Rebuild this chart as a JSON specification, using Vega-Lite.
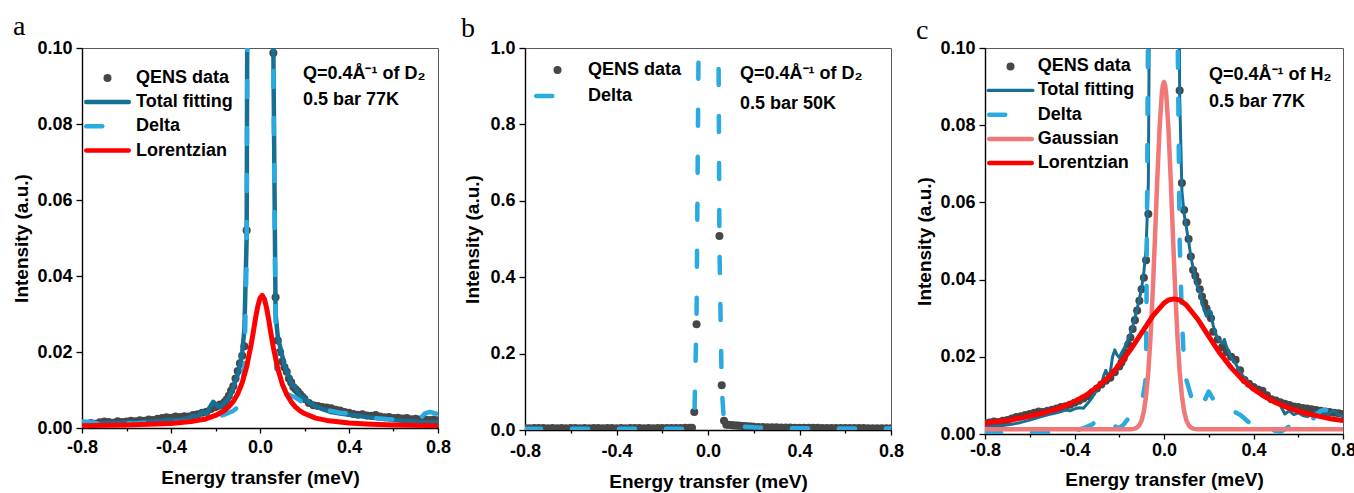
{
"$schema": "https://vega.github.io/schema/vega-lite/v6.json",
"background": "white",
"padding": {"left": 12, "top": 12, "right": 5, "bottom": 2},
"bounds": "flush",
"spacing": 87,
"datasets": {
"a": [
{"series":"QENS data","E":-0.80,"I":0.0012},{"series":"QENS data","E":-0.78,"I":0.0010},{"series":"QENS data","E":-0.76,"I":0.0013},{"series":"QENS data","E":-0.74,"I":0.0011},{"series":"QENS data","E":-0.72,"I":0.0015},{"series":"QENS data","E":-0.70,"I":0.0017},{"series":"QENS data","E":-0.68,"I":0.0016},{"series":"QENS data","E":-0.66,"I":0.0014},{"series":"QENS data","E":-0.64,"I":0.0018},{"series":"QENS data","E":-0.62,"I":0.0016},{"series":"QENS data","E":-0.60,"I":0.0017},{"series":"QENS data","E":-0.58,"I":0.0019},{"series":"QENS data","E":-0.56,"I":0.0018},{"series":"QENS data","E":-0.54,"I":0.0020},{"series":"QENS data","E":-0.52,"I":0.0019},{"series":"QENS data","E":-0.50,"I":0.0022},{"series":"QENS data","E":-0.48,"I":0.0021},{"series":"QENS data","E":-0.46,"I":0.0024},{"series":"QENS data","E":-0.44,"I":0.0026},{"series":"QENS data","E":-0.42,"I":0.0028},{"series":"QENS data","E":-0.40,"I":0.0027},{"series":"QENS data","E":-0.38,"I":0.0030},{"series":"QENS data","E":-0.36,"I":0.0029},{"series":"QENS data","E":-0.34,"I":0.0031},{"series":"QENS data","E":-0.32,"I":0.0030},{"series":"QENS data","E":-0.30,"I":0.0034},{"series":"QENS data","E":-0.28,"I":0.0036},{"series":"QENS data","E":-0.26,"I":0.0040},{"series":"QENS data","E":-0.24,"I":0.0043},{"series":"QENS data","E":-0.22,"I":0.0050},{"series":"QENS data","E":-0.20,"I":0.0055},{"series":"QENS data","E":-0.19,"I":0.0058},{"series":"QENS data","E":-0.18,"I":0.0062},{"series":"QENS data","E":-0.17,"I":0.0060},{"series":"QENS data","E":-0.16,"I":0.0068},{"series":"QENS data","E":-0.15,"I":0.0075},{"series":"QENS data","E":-0.14,"I":0.0085},{"series":"QENS data","E":-0.13,"I":0.0098},{"series":"QENS data","E":-0.12,"I":0.0110},{"series":"QENS data","E":-0.11,"I":0.0130},{"series":"QENS data","E":-0.10,"I":0.0150},{"series":"QENS data","E":-0.09,"I":0.0170},{"series":"QENS data","E":-0.08,"I":0.0190},{"series":"QENS data","E":-0.07,"I":0.0215},{"series":"QENS data","E":-0.06,"I":0.052},{"series":"QENS data","E":-0.05,"I":0.25},{"series":"QENS data","E":-0.04,"I":0.62},{"series":"QENS data","E":-0.03,"I":1.0},{"series":"QENS data","E":-0.02,"I":1.3},{"series":"QENS data","E":-0.01,"I":1.5},{"series":"QENS data","E":0.0,"I":1.55},{"series":"QENS data","E":0.01,"I":1.5},{"series":"QENS data","E":0.02,"I":1.3},{"series":"QENS data","E":0.03,"I":1.0},{"series":"QENS data","E":0.04,"I":0.66},{"series":"QENS data","E":0.05,"I":0.33},{"series":"QENS data","E":0.06,"I":0.0987},{"series":"QENS data","E":0.07,"I":0.0344},{"series":"QENS data","E":0.08,"I":0.0230},{"series":"QENS data","E":0.09,"I":0.0200},{"series":"QENS data","E":0.10,"I":0.0175},{"series":"QENS data","E":0.11,"I":0.0160},{"series":"QENS data","E":0.12,"I":0.0148},{"series":"QENS data","E":0.13,"I":0.0130},{"series":"QENS data","E":0.14,"I":0.0120},{"series":"QENS data","E":0.15,"I":0.0108},{"series":"QENS data","E":0.16,"I":0.0102},{"series":"QENS data","E":0.17,"I":0.0096},{"series":"QENS data","E":0.18,"I":0.0089},{"series":"QENS data","E":0.19,"I":0.0082},{"series":"QENS data","E":0.20,"I":0.0076},{"series":"QENS data","E":0.22,"I":0.0066},{"series":"QENS data","E":0.24,"I":0.0060},{"series":"QENS data","E":0.26,"I":0.0058},{"series":"QENS data","E":0.28,"I":0.0055},{"series":"QENS data","E":0.30,"I":0.0054},{"series":"QENS data","E":0.32,"I":0.0052},{"series":"QENS data","E":0.34,"I":0.0048},{"series":"QENS data","E":0.36,"I":0.0046},{"series":"QENS data","E":0.38,"I":0.0042},{"series":"QENS data","E":0.40,"I":0.0040},{"series":"QENS data","E":0.42,"I":0.0037},{"series":"QENS data","E":0.44,"I":0.0035},{"series":"QENS data","E":0.46,"I":0.0036},{"series":"QENS data","E":0.48,"I":0.0033},{"series":"QENS data","E":0.50,"I":0.0032},{"series":"QENS data","E":0.52,"I":0.0034},{"series":"QENS data","E":0.54,"I":0.0030},{"series":"QENS data","E":0.56,"I":0.0028},{"series":"QENS data","E":0.58,"I":0.0029},{"series":"QENS data","E":0.60,"I":0.0026},{"series":"QENS data","E":0.62,"I":0.0027},{"series":"QENS data","E":0.64,"I":0.0025},{"series":"QENS data","E":0.66,"I":0.0026},{"series":"QENS data","E":0.68,"I":0.0023},{"series":"QENS data","E":0.70,"I":0.0024},{"series":"QENS data","E":0.72,"I":0.0022},{"series":"QENS data","E":0.74,"I":0.0023},{"series":"QENS data","E":0.76,"I":0.0021},{"series":"QENS data","E":0.78,"I":0.0022},{"series":"QENS data","E":0.80,"I":0.0020},
{"series":"Total fitting","E":-0.80,"I":0.0015},{"series":"Total fitting","E":-0.76,"I":0.0013},{"series":"Total fitting","E":-0.72,"I":0.0012},{"series":"Total fitting","E":-0.68,"I":0.0014},{"series":"Total fitting","E":-0.64,"I":0.0013},{"series":"Total fitting","E":-0.60,"I":0.0015},{"series":"Total fitting","E":-0.56,"I":0.0014},{"series":"Total fitting","E":-0.52,"I":0.0016},{"series":"Total fitting","E":-0.48,"I":0.0017},{"series":"Total fitting","E":-0.44,"I":0.0019},{"series":"Total fitting","E":-0.40,"I":0.0021},{"series":"Total fitting","E":-0.36,"I":0.0022},{"series":"Total fitting","E":-0.32,"I":0.0026},{"series":"Total fitting","E":-0.30,"I":0.0032},{"series":"Total fitting","E":-0.28,"I":0.0030},{"series":"Total fitting","E":-0.26,"I":0.0042},{"series":"Total fitting","E":-0.24,"I":0.0038},{"series":"Total fitting","E":-0.22,"I":0.0060},{"series":"Total fitting","E":-0.21,"I":0.0069},{"series":"Total fitting","E":-0.20,"I":0.0062},{"series":"Total fitting","E":-0.19,"I":0.0058},{"series":"Total fitting","E":-0.18,"I":0.0055},{"series":"Total fitting","E":-0.17,"I":0.0060},{"series":"Total fitting","E":-0.16,"I":0.0066},{"series":"Total fitting","E":-0.15,"I":0.0072},{"series":"Total fitting","E":-0.14,"I":0.0080},{"series":"Total fitting","E":-0.13,"I":0.0092},{"series":"Total fitting","E":-0.12,"I":0.0108},{"series":"Total fitting","E":-0.11,"I":0.0125},{"series":"Total fitting","E":-0.10,"I":0.0140},{"series":"Total fitting","E":-0.09,"I":0.0165},{"series":"Total fitting","E":-0.08,"I":0.0200},{"series":"Total fitting","E":-0.07,"I":0.0260},{"series":"Total fitting","E":-0.06,"I":0.05},{"series":"Total fitting","E":-0.05,"I":0.25},{"series":"Total fitting","E":-0.04,"I":0.62},{"series":"Total fitting","E":-0.03,"I":1.0},{"series":"Total fitting","E":-0.02,"I":1.3},{"series":"Total fitting","E":-0.01,"I":1.5},{"series":"Total fitting","E":0.0,"I":1.55},{"series":"Total fitting","E":0.01,"I":1.5},{"series":"Total fitting","E":0.02,"I":1.3},{"series":"Total fitting","E":0.03,"I":1.0},{"series":"Total fitting","E":0.04,"I":0.66},{"series":"Total fitting","E":0.05,"I":0.33},{"series":"Total fitting","E":0.06,"I":0.1},{"series":"Total fitting","E":0.07,"I":0.030},{"series":"Total fitting","E":0.08,"I":0.024},{"series":"Total fitting","E":0.09,"I":0.0215},{"series":"Total fitting","E":0.10,"I":0.019},{"series":"Total fitting","E":0.11,"I":0.0165},{"series":"Total fitting","E":0.12,"I":0.0150},{"series":"Total fitting","E":0.13,"I":0.0135},{"series":"Total fitting","E":0.14,"I":0.0120},{"series":"Total fitting","E":0.15,"I":0.0112},{"series":"Total fitting","E":0.16,"I":0.0105},{"series":"Total fitting","E":0.17,"I":0.0095},{"series":"Total fitting","E":0.18,"I":0.0085},{"series":"Total fitting","E":0.19,"I":0.0080},{"series":"Total fitting","E":0.20,"I":0.0078},{"series":"Total fitting","E":0.21,"I":0.0072},{"series":"Total fitting","E":0.22,"I":0.0068},{"series":"Total fitting","E":0.24,"I":0.0060},{"series":"Total fitting","E":0.26,"I":0.0055},{"series":"Total fitting","E":0.28,"I":0.0050},{"series":"Total fitting","E":0.30,"I":0.0046},{"series":"Total fitting","E":0.32,"I":0.0042},{"series":"Total fitting","E":0.34,"I":0.0040},{"series":"Total fitting","E":0.36,"I":0.0038},{"series":"Total fitting","E":0.40,"I":0.0035},{"series":"Total fitting","E":0.44,"I":0.0032},{"series":"Total fitting","E":0.48,"I":0.0029},{"series":"Total fitting","E":0.52,"I":0.0026},{"series":"Total fitting","E":0.56,"I":0.0024},{"series":"Total fitting","E":0.60,"I":0.0021},{"series":"Total fitting","E":0.64,"I":0.0019},{"series":"Total fitting","E":0.68,"I":0.0018},{"series":"Total fitting","E":0.72,"I":0.0016},{"series":"Total fitting","E":0.76,"I":0.0015},{"series":"Total fitting","E":0.80,"I":0.0016},
{"series":"Delta","E":-0.80,"I":0.0017},{"series":"Delta","E":-0.76,"I":0.0016},{"series":"Delta","E":-0.72,"I":0.0010},{"series":"Delta","E":-0.68,"I":0.0012},{"series":"Delta","E":-0.64,"I":0.0011},{"series":"Delta","E":-0.60,"I":0.0013},{"series":"Delta","E":-0.56,"I":0.0012},{"series":"Delta","E":-0.52,"I":0.0014},{"series":"Delta","E":-0.48,"I":0.0013},{"series":"Delta","E":-0.44,"I":0.0014},{"series":"Delta","E":-0.40,"I":0.0015},{"series":"Delta","E":-0.36,"I":0.0016},{"series":"Delta","E":-0.32,"I":0.0018},{"series":"Delta","E":-0.28,"I":0.0020},{"series":"Delta","E":-0.24,"I":0.0022},{"series":"Delta","E":-0.20,"I":0.0030},{"series":"Delta","E":-0.16,"I":0.0035},{"series":"Delta","E":-0.14,"I":0.0040},{"series":"Delta","E":-0.12,"I":0.0045},{"series":"Delta","E":-0.10,"I":0.0055},{"series":"Delta","E":-0.09,"I":0.0070},{"series":"Delta","E":-0.08,"I":0.0110},{"series":"Delta","E":-0.07,"I":0.0160},{"series":"Delta","E":-0.06,"I":0.045},{"series":"Delta","E":-0.05,"I":0.24},{"series":"Delta","E":-0.04,"I":0.6},{"series":"Delta","E":-0.03,"I":1.0},{"series":"Delta","E":-0.02,"I":1.3},{"series":"Delta","E":-0.01,"I":1.5},{"series":"Delta","E":0.0,"I":1.55},{"series":"Delta","E":0.01,"I":1.5},{"series":"Delta","E":0.02,"I":1.3},{"series":"Delta","E":0.03,"I":1.0},{"series":"Delta","E":0.04,"I":0.65},{"series":"Delta","E":0.05,"I":0.32},{"series":"Delta","E":0.06,"I":0.095},{"series":"Delta","E":0.07,"I":0.025},{"series":"Delta","E":0.075,"I":0.0104},{"series":"Delta","E":0.08,"I":0.0100},{"series":"Delta","E":0.10,"I":0.0095},{"series":"Delta","E":0.12,"I":0.0090},{"series":"Delta","E":0.14,"I":0.0085},{"series":"Delta","E":0.16,"I":0.0080},{"series":"Delta","E":0.18,"I":0.0072},{"series":"Delta","E":0.20,"I":0.0065},{"series":"Delta","E":0.22,"I":0.0060},{"series":"Delta","E":0.24,"I":0.0057},{"series":"Delta","E":0.26,"I":0.0055},{"series":"Delta","E":0.28,"I":0.0050},{"series":"Delta","E":0.32,"I":0.0045},{"series":"Delta","E":0.36,"I":0.0040},{"series":"Delta","E":0.40,"I":0.0038},{"series":"Delta","E":0.44,"I":0.0035},{"series":"Delta","E":0.48,"I":0.0030},{"series":"Delta","E":0.52,"I":0.0026},{"series":"Delta","E":0.56,"I":0.0024},{"series":"Delta","E":0.60,"I":0.0022},{"series":"Delta","E":0.64,"I":0.0020},{"series":"Delta","E":0.68,"I":0.0021},{"series":"Delta","E":0.72,"I":0.0024},{"series":"Delta","E":0.74,"I":0.0038},{"series":"Delta","E":0.76,"I":0.0042},{"series":"Delta","E":0.78,"I":0.0040},{"series":"Delta","E":0.80,"I":0.0036},
{"series":"Lorentzian","E":-0.80,"I":0.0006},{"series":"Lorentzian","E":-0.60,"I":0.0008},{"series":"Lorentzian","E":-0.40,"I":0.0012},{"series":"Lorentzian","E":-0.30,"I":0.0018},{"series":"Lorentzian","E":-0.25,"I":0.0023},{"series":"Lorentzian","E":-0.20,"I":0.0033},{"series":"Lorentzian","E":-0.16,"I":0.0046},{"series":"Lorentzian","E":-0.14,"I":0.0056},{"series":"Lorentzian","E":-0.12,"I":0.0070},{"series":"Lorentzian","E":-0.10,"I":0.0090},{"series":"Lorentzian","E":-0.08,"I":0.0119},{"series":"Lorentzian","E":-0.06,"I":0.0161},{"series":"Lorentzian","E":-0.04,"I":0.0219},{"series":"Lorentzian","E":-0.03,"I":0.0253},{"series":"Lorentzian","E":-0.02,"I":0.0289},{"series":"Lorentzian","E":-0.01,"I":0.0320},{"series":"Lorentzian","E":0.0,"I":0.0342},{"series":"Lorentzian","E":0.01,"I":0.0349},{"series":"Lorentzian","E":0.02,"I":0.0339},{"series":"Lorentzian","E":0.03,"I":0.0315},{"series":"Lorentzian","E":0.04,"I":0.0282},{"series":"Lorentzian","E":0.05,"I":0.0246},{"series":"Lorentzian","E":0.06,"I":0.0212},{"series":"Lorentzian","E":0.08,"I":0.0156},{"series":"Lorentzian","E":0.10,"I":0.0116},{"series":"Lorentzian","E":0.12,"I":0.0088},{"series":"Lorentzian","E":0.14,"I":0.0069},{"series":"Lorentzian","E":0.16,"I":0.0055},{"series":"Lorentzian","E":0.18,"I":0.0045},{"series":"Lorentzian","E":0.20,"I":0.0038},{"series":"Lorentzian","E":0.25,"I":0.0026},{"series":"Lorentzian","E":0.30,"I":0.0020},{"series":"Lorentzian","E":0.40,"I":0.0013},{"series":"Lorentzian","E":0.50,"I":0.0010},{"series":"Lorentzian","E":0.60,"I":0.0008},{"series":"Lorentzian","E":0.80,"I":0.0006}
],
"b": [
{"series":"QENS data","E":-0.80,"I":0.0050},{"series":"QENS data","E":-0.78,"I":0.0046},{"series":"QENS data","E":-0.76,"I":0.0052},{"series":"QENS data","E":-0.74,"I":0.0049},{"series":"QENS data","E":-0.72,"I":0.0053},{"series":"QENS data","E":-0.70,"I":0.0047},{"series":"QENS data","E":-0.68,"I":0.0051},{"series":"QENS data","E":-0.66,"I":0.0048},{"series":"QENS data","E":-0.64,"I":0.0050},{"series":"QENS data","E":-0.62,"I":0.0046},{"series":"QENS data","E":-0.60,"I":0.0052},{"series":"QENS data","E":-0.58,"I":0.0049},{"series":"QENS data","E":-0.56,"I":0.0047},{"series":"QENS data","E":-0.54,"I":0.0051},{"series":"QENS data","E":-0.52,"I":0.0048},{"series":"QENS data","E":-0.50,"I":0.0053},{"series":"QENS data","E":-0.48,"I":0.0049},{"series":"QENS data","E":-0.46,"I":0.0046},{"series":"QENS data","E":-0.44,"I":0.0050},{"series":"QENS data","E":-0.42,"I":0.0052},{"series":"QENS data","E":-0.40,"I":0.0048},{"series":"QENS data","E":-0.38,"I":0.0051},{"series":"QENS data","E":-0.36,"I":0.0047},{"series":"QENS data","E":-0.34,"I":0.0050},{"series":"QENS data","E":-0.32,"I":0.0053},{"series":"QENS data","E":-0.30,"I":0.0049},{"series":"QENS data","E":-0.28,"I":0.0046},{"series":"QENS data","E":-0.26,"I":0.0051},{"series":"QENS data","E":-0.24,"I":0.0048},{"series":"QENS data","E":-0.22,"I":0.0050},{"series":"QENS data","E":-0.20,"I":0.0052},{"series":"QENS data","E":-0.18,"I":0.0049},{"series":"QENS data","E":-0.16,"I":0.0051},{"series":"QENS data","E":-0.14,"I":0.0050},{"series":"QENS data","E":-0.12,"I":0.0053},{"series":"QENS data","E":-0.10,"I":0.0055},{"series":"QENS data","E":-0.08,"I":0.0058},{"series":"QENS data","E":-0.07,"I":0.0060},{"series":"QENS data","E":-0.06,"I":0.047},{"series":"QENS data","E":-0.05,"I":0.277},{"series":"QENS data","E":-0.04,"I":1.6},{"series":"QENS data","E":-0.03,"I":3.2},{"series":"QENS data","E":-0.02,"I":4.5},{"series":"QENS data","E":-0.01,"I":5.2},{"series":"QENS data","E":0.0,"I":5.4},{"series":"QENS data","E":0.01,"I":5.2},{"series":"QENS data","E":0.02,"I":4.6},{"series":"QENS data","E":0.03,"I":3.4},{"series":"QENS data","E":0.04,"I":1.9},{"series":"QENS data","E":0.05,"I":0.508},{"series":"QENS data","E":0.06,"I":0.117},{"series":"QENS data","E":0.07,"I":0.024},{"series":"QENS data","E":0.08,"I":0.014},{"series":"QENS data","E":0.09,"I":0.0135},{"series":"QENS data","E":0.10,"I":0.013},{"series":"QENS data","E":0.11,"I":0.0125},{"series":"QENS data","E":0.12,"I":0.012},{"series":"QENS data","E":0.13,"I":0.0115},{"series":"QENS data","E":0.14,"I":0.011},{"series":"QENS data","E":0.15,"I":0.0105},{"series":"QENS data","E":0.16,"I":0.010},{"series":"QENS data","E":0.17,"I":0.0095},{"series":"QENS data","E":0.18,"I":0.009},{"series":"QENS data","E":0.19,"I":0.0088},{"series":"QENS data","E":0.20,"I":0.0085},{"series":"QENS data","E":0.22,"I":0.0080},{"series":"QENS data","E":0.24,"I":0.0076},{"series":"QENS data","E":0.26,"I":0.0072},{"series":"QENS data","E":0.28,"I":0.0070},{"series":"QENS data","E":0.30,"I":0.0068},{"series":"QENS data","E":0.32,"I":0.0066},{"series":"QENS data","E":0.34,"I":0.0064},{"series":"QENS data","E":0.36,"I":0.0062},{"series":"QENS data","E":0.38,"I":0.0060},{"series":"QENS data","E":0.40,"I":0.0059},{"series":"QENS data","E":0.42,"I":0.0058},{"series":"QENS data","E":0.44,"I":0.0057},{"series":"QENS data","E":0.46,"I":0.0056},{"series":"QENS data","E":0.48,"I":0.0055},{"series":"QENS data","E":0.50,"I":0.0054},{"series":"QENS data","E":0.52,"I":0.0054},{"series":"QENS data","E":0.54,"I":0.0053},{"series":"QENS data","E":0.56,"I":0.0052},{"series":"QENS data","E":0.58,"I":0.0052},{"series":"QENS data","E":0.60,"I":0.0051},{"series":"QENS data","E":0.62,"I":0.0050},{"series":"QENS data","E":0.64,"I":0.0050},{"series":"QENS data","E":0.66,"I":0.0049},{"series":"QENS data","E":0.68,"I":0.0049},{"series":"QENS data","E":0.70,"I":0.0048},{"series":"QENS data","E":0.72,"I":0.0048},{"series":"QENS data","E":0.74,"I":0.0047},{"series":"QENS data","E":0.76,"I":0.0047},{"series":"QENS data","E":0.78,"I":0.0046},{"series":"QENS data","E":0.80,"I":0.0046},
{"series":"Delta","E":-0.80,"I":0.0035},{"series":"Delta","E":-0.60,"I":0.0035},{"series":"Delta","E":-0.40,"I":0.0035},{"series":"Delta","E":-0.20,"I":0.0035},{"series":"Delta","E":-0.10,"I":0.0035},{"series":"Delta","E":-0.08,"I":0.0040},{"series":"Delta","E":-0.07,"I":0.0045},{"series":"Delta","E":-0.06,"I":0.020},{"series":"Delta","E":-0.05,"I":0.30},{"series":"Delta","E":-0.04,"I":1.1},{"series":"Delta","E":-0.03,"I":2.6},{"series":"Delta","E":-0.02,"I":4.0},{"series":"Delta","E":-0.01,"I":5.0},{"series":"Delta","E":0.0,"I":5.3},{"series":"Delta","E":0.01,"I":5.0},{"series":"Delta","E":0.02,"I":4.2},{"series":"Delta","E":0.03,"I":3.0},{"series":"Delta","E":0.04,"I":1.8},{"series":"Delta","E":0.05,"I":0.48},{"series":"Delta","E":0.06,"I":0.11},{"series":"Delta","E":0.07,"I":0.020},{"series":"Delta","E":0.08,"I":0.012},{"series":"Delta","E":0.10,"I":0.011},{"series":"Delta","E":0.12,"I":0.010},{"series":"Delta","E":0.16,"I":0.0085},{"series":"Delta","E":0.20,"I":0.0070},{"series":"Delta","E":0.25,"I":0.0060},{"series":"Delta","E":0.30,"I":0.0052},{"series":"Delta","E":0.40,"I":0.0045},{"series":"Delta","E":0.50,"I":0.0042},{"series":"Delta","E":0.60,"I":0.0040},{"series":"Delta","E":0.70,"I":0.0040},{"series":"Delta","E":0.80,"I":0.0040}
],
"c": [
{"series":"QENS data","E":-0.80,"I":0.0028},{"series":"QENS data","E":-0.78,"I":0.0030},{"series":"QENS data","E":-0.76,"I":0.0032},{"series":"QENS data","E":-0.74,"I":0.0031},{"series":"QENS data","E":-0.72,"I":0.0034},{"series":"QENS data","E":-0.70,"I":0.0036},{"series":"QENS data","E":-0.68,"I":0.0040},{"series":"QENS data","E":-0.66,"I":0.0044},{"series":"QENS data","E":-0.64,"I":0.0046},{"series":"QENS data","E":-0.62,"I":0.0049},{"series":"QENS data","E":-0.60,"I":0.0052},{"series":"QENS data","E":-0.58,"I":0.0055},{"series":"QENS data","E":-0.56,"I":0.0058},{"series":"QENS data","E":-0.54,"I":0.0057},{"series":"QENS data","E":-0.52,"I":0.0060},{"series":"QENS data","E":-0.50,"I":0.0063},{"series":"QENS data","E":-0.48,"I":0.0066},{"series":"QENS data","E":-0.46,"I":0.0070},{"series":"QENS data","E":-0.44,"I":0.0072},{"series":"QENS data","E":-0.42,"I":0.0076},{"series":"QENS data","E":-0.40,"I":0.0081},{"series":"QENS data","E":-0.38,"I":0.0086},{"series":"QENS data","E":-0.36,"I":0.0092},{"series":"QENS data","E":-0.34,"I":0.0098},{"series":"QENS data","E":-0.32,"I":0.0108},{"series":"QENS data","E":-0.30,"I":0.0118},{"series":"QENS data","E":-0.28,"I":0.0128},{"series":"QENS data","E":-0.26,"I":0.0138},{"series":"QENS data","E":-0.24,"I":0.0146},{"series":"QENS data","E":-0.22,"I":0.0160},{"series":"QENS data","E":-0.20,"I":0.0175},{"series":"QENS data","E":-0.19,"I":0.0185},{"series":"QENS data","E":-0.18,"I":0.0196},{"series":"QENS data","E":-0.17,"I":0.0212},{"series":"QENS data","E":-0.16,"I":0.0232},{"series":"QENS data","E":-0.15,"I":0.0250},{"series":"QENS data","E":-0.14,"I":0.0272},{"series":"QENS data","E":-0.13,"I":0.0295},{"series":"QENS data","E":-0.12,"I":0.0320},{"series":"QENS data","E":-0.11,"I":0.0345},{"series":"QENS data","E":-0.10,"I":0.0375},{"series":"QENS data","E":-0.09,"I":0.0405},{"series":"QENS data","E":-0.08,"I":0.0450},{"series":"QENS data","E":-0.07,"I":0.0570},{"series":"QENS data","E":-0.06,"I":0.15},{"series":"QENS data","E":-0.05,"I":0.35},{"series":"QENS data","E":-0.04,"I":0.6},{"series":"QENS data","E":-0.03,"I":0.9},{"series":"QENS data","E":-0.02,"I":1.1},{"series":"QENS data","E":-0.01,"I":1.2},{"series":"QENS data","E":0.0,"I":1.2},{"series":"QENS data","E":0.01,"I":1.15},{"series":"QENS data","E":0.02,"I":1.0},{"series":"QENS data","E":0.03,"I":0.8},{"series":"QENS data","E":0.04,"I":0.55},{"series":"QENS data","E":0.05,"I":0.35},{"series":"QENS data","E":0.06,"I":0.17},{"series":"QENS data","E":0.07,"I":0.089},{"series":"QENS data","E":0.08,"I":0.065},{"series":"QENS data","E":0.09,"I":0.058},{"series":"QENS data","E":0.10,"I":0.0548},{"series":"QENS data","E":0.11,"I":0.0505},{"series":"QENS data","E":0.12,"I":0.0460},{"series":"QENS data","E":0.13,"I":0.0425},{"series":"QENS data","E":0.14,"I":0.0410},{"series":"QENS data","E":0.15,"I":0.0395},{"series":"QENS data","E":0.16,"I":0.0375},{"series":"QENS data","E":0.17,"I":0.0356},{"series":"QENS data","E":0.18,"I":0.0340},{"series":"QENS data","E":0.19,"I":0.0325},{"series":"QENS data","E":0.20,"I":0.0312},{"series":"QENS data","E":0.21,"I":0.0300},{"series":"QENS data","E":0.22,"I":0.0265},{"series":"QENS data","E":0.24,"I":0.0245},{"series":"QENS data","E":0.26,"I":0.0225},{"series":"QENS data","E":0.28,"I":0.0212},{"series":"QENS data","E":0.30,"I":0.0200},{"series":"QENS data","E":0.32,"I":0.0192},{"series":"QENS data","E":0.34,"I":0.0165},{"series":"QENS data","E":0.36,"I":0.0140},{"series":"QENS data","E":0.38,"I":0.0130},{"series":"QENS data","E":0.40,"I":0.0122},{"series":"QENS data","E":0.42,"I":0.0115},{"series":"QENS data","E":0.44,"I":0.0112},{"series":"QENS data","E":0.46,"I":0.0100},{"series":"QENS data","E":0.48,"I":0.0090},{"series":"QENS data","E":0.50,"I":0.0087},{"series":"QENS data","E":0.52,"I":0.0082},{"series":"QENS data","E":0.54,"I":0.0078},{"series":"QENS data","E":0.56,"I":0.0075},{"series":"QENS data","E":0.58,"I":0.0071},{"series":"QENS data","E":0.60,"I":0.0070},{"series":"QENS data","E":0.62,"I":0.0067},{"series":"QENS data","E":0.64,"I":0.0066},{"series":"QENS data","E":0.66,"I":0.0064},{"series":"QENS data","E":0.68,"I":0.0062},{"series":"QENS data","E":0.70,"I":0.0060},{"series":"QENS data","E":0.72,"I":0.0058},{"series":"QENS data","E":0.74,"I":0.0057},{"series":"QENS data","E":0.76,"I":0.0055},{"series":"QENS data","E":0.78,"I":0.0054},{"series":"QENS data","E":0.80,"I":0.0052},
{"series":"Total fitting","E":-0.80,"I":0.0018},{"series":"Total fitting","E":-0.76,"I":0.0020},{"series":"Total fitting","E":-0.72,"I":0.0022},{"series":"Total fitting","E":-0.68,"I":0.0025},{"series":"Total fitting","E":-0.64,"I":0.0030},{"series":"Total fitting","E":-0.60,"I":0.0036},{"series":"Total fitting","E":-0.56,"I":0.0043},{"series":"Total fitting","E":-0.52,"I":0.0050},{"series":"Total fitting","E":-0.48,"I":0.0055},{"series":"Total fitting","E":-0.46,"I":0.0058},{"series":"Total fitting","E":-0.44,"I":0.0062},{"series":"Total fitting","E":-0.42,"I":0.0060},{"series":"Total fitting","E":-0.40,"I":0.0065},{"series":"Total fitting","E":-0.38,"I":0.0068},{"series":"Total fitting","E":-0.36,"I":0.0067},{"series":"Total fitting","E":-0.34,"I":0.0080},{"series":"Total fitting","E":-0.32,"I":0.0095},{"series":"Total fitting","E":-0.30,"I":0.0115},{"series":"Total fitting","E":-0.28,"I":0.0130},{"series":"Total fitting","E":-0.27,"I":0.0150},{"series":"Total fitting","E":-0.26,"I":0.0165},{"series":"Total fitting","E":-0.25,"I":0.0150},{"series":"Total fitting","E":-0.24,"I":0.0160},{"series":"Total fitting","E":-0.23,"I":0.0200},{"series":"Total fitting","E":-0.22,"I":0.0218},{"series":"Total fitting","E":-0.21,"I":0.0205},{"series":"Total fitting","E":-0.20,"I":0.0198},{"series":"Total fitting","E":-0.19,"I":0.0210},{"series":"Total fitting","E":-0.18,"I":0.0220},{"series":"Total fitting","E":-0.17,"I":0.0232},{"series":"Total fitting","E":-0.16,"I":0.0245},{"series":"Total fitting","E":-0.15,"I":0.0260},{"series":"Total fitting","E":-0.14,"I":0.0278},{"series":"Total fitting","E":-0.13,"I":0.0300},{"series":"Total fitting","E":-0.12,"I":0.0325},{"series":"Total fitting","E":-0.11,"I":0.0350},{"series":"Total fitting","E":-0.10,"I":0.0378},{"series":"Total fitting","E":-0.09,"I":0.0420},{"series":"Total fitting","E":-0.08,"I":0.0480},{"series":"Total fitting","E":-0.07,"I":0.0650},{"series":"Total fitting","E":-0.06,"I":0.16},{"series":"Total fitting","E":-0.05,"I":0.36},{"series":"Total fitting","E":-0.04,"I":0.6},{"series":"Total fitting","E":-0.03,"I":0.9},{"series":"Total fitting","E":-0.02,"I":1.1},{"series":"Total fitting","E":-0.01,"I":1.2},{"series":"Total fitting","E":0.0,"I":1.2},{"series":"Total fitting","E":0.01,"I":1.15},{"series":"Total fitting","E":0.02,"I":1.0},{"series":"Total fitting","E":0.03,"I":0.8},{"series":"Total fitting","E":0.04,"I":0.55},{"series":"Total fitting","E":0.05,"I":0.36},{"series":"Total fitting","E":0.06,"I":0.2},{"series":"Total fitting","E":0.07,"I":0.088},{"series":"Total fitting","E":0.08,"I":0.063},{"series":"Total fitting","E":0.09,"I":0.057},{"series":"Total fitting","E":0.10,"I":0.0535},{"series":"Total fitting","E":0.11,"I":0.0500},{"series":"Total fitting","E":0.12,"I":0.0460},{"series":"Total fitting","E":0.13,"I":0.0430},{"series":"Total fitting","E":0.14,"I":0.0400},{"series":"Total fitting","E":0.15,"I":0.0380},{"series":"Total fitting","E":0.16,"I":0.0370},{"series":"Total fitting","E":0.17,"I":0.0340},{"series":"Total fitting","E":0.18,"I":0.0320},{"series":"Total fitting","E":0.19,"I":0.0305},{"series":"Total fitting","E":0.20,"I":0.0320},{"series":"Total fitting","E":0.21,"I":0.0315},{"series":"Total fitting","E":0.22,"I":0.0280},{"series":"Total fitting","E":0.23,"I":0.0262},{"series":"Total fitting","E":0.24,"I":0.0248},{"series":"Total fitting","E":0.25,"I":0.0240},{"series":"Total fitting","E":0.26,"I":0.0235},{"series":"Total fitting","E":0.27,"I":0.0245},{"series":"Total fitting","E":0.28,"I":0.0225},{"series":"Total fitting","E":0.30,"I":0.0200},{"series":"Total fitting","E":0.32,"I":0.0182},{"series":"Total fitting","E":0.34,"I":0.0160},{"series":"Total fitting","E":0.36,"I":0.0145},{"series":"Total fitting","E":0.38,"I":0.0130},{"series":"Total fitting","E":0.40,"I":0.0120},{"series":"Total fitting","E":0.42,"I":0.0110},{"series":"Total fitting","E":0.44,"I":0.0098},{"series":"Total fitting","E":0.46,"I":0.0092},{"series":"Total fitting","E":0.48,"I":0.0085},{"series":"Total fitting","E":0.50,"I":0.0082},{"series":"Total fitting","E":0.52,"I":0.0074},{"series":"Total fitting","E":0.54,"I":0.0052},{"series":"Total fitting","E":0.56,"I":0.0060},{"series":"Total fitting","E":0.58,"I":0.0050},{"series":"Total fitting","E":0.60,"I":0.0055},{"series":"Total fitting","E":0.62,"I":0.0048},{"series":"Total fitting","E":0.64,"I":0.0045},{"series":"Total fitting","E":0.66,"I":0.0050},{"series":"Total fitting","E":0.68,"I":0.0058},{"series":"Total fitting","E":0.70,"I":0.0052},{"series":"Total fitting","E":0.72,"I":0.0048},{"series":"Total fitting","E":0.74,"I":0.0055},{"series":"Total fitting","E":0.76,"I":0.0060},{"series":"Total fitting","E":0.78,"I":0.0050},{"series":"Total fitting","E":0.80,"I":0.0045},
{"series":"Delta","E":-0.80,"I":0.0003},{"series":"Delta","E":-0.70,"I":0.0003},{"series":"Delta","E":-0.60,"I":0.0003},{"series":"Delta","E":-0.50,"I":0.0004},{"series":"Delta","E":-0.45,"I":0.0005},{"series":"Delta","E":-0.40,"I":0.0008},{"series":"Delta","E":-0.36,"I":0.0015},{"series":"Delta","E":-0.32,"I":0.0025},{"series":"Delta","E":-0.30,"I":0.0035},{"series":"Delta","E":-0.28,"I":0.0045},{"series":"Delta","E":-0.26,"I":0.0050},{"series":"Delta","E":-0.24,"I":0.0040},{"series":"Delta","E":-0.22,"I":0.0020},{"series":"Delta","E":-0.20,"I":0.0015},{"series":"Delta","E":-0.18,"I":0.0025},{"series":"Delta","E":-0.16,"I":0.0040},{"series":"Delta","E":-0.14,"I":0.0045},{"series":"Delta","E":-0.12,"I":0.0050},{"series":"Delta","E":-0.10,"I":0.0080},{"series":"Delta","E":-0.09,"I":0.0110},{"series":"Delta","E":-0.08,"I":0.0150},{"series":"Delta","E":-0.07,"I":0.12},{"series":"Delta","E":-0.06,"I":0.4},{"series":"Delta","E":-0.05,"I":0.7},{"series":"Delta","E":-0.04,"I":0.9},{"series":"Delta","E":-0.03,"I":1.0},{"series":"Delta","E":-0.02,"I":1.1},{"series":"Delta","E":-0.01,"I":1.15},{"series":"Delta","E":0.0,"I":1.15},{"series":"Delta","E":0.01,"I":1.1},{"series":"Delta","E":0.02,"I":1.0},{"series":"Delta","E":0.03,"I":0.85},{"series":"Delta","E":0.04,"I":0.65},{"series":"Delta","E":0.05,"I":0.4},{"series":"Delta","E":0.06,"I":0.11},{"series":"Delta","E":0.07,"I":0.05},{"series":"Delta","E":0.08,"I":0.03},{"series":"Delta","E":0.09,"I":0.018},{"series":"Delta","E":0.10,"I":0.014},{"series":"Delta","E":0.12,"I":0.010},{"series":"Delta","E":0.14,"I":0.007},{"series":"Delta","E":0.16,"I":0.006},{"series":"Delta","E":0.18,"I":0.0085},{"series":"Delta","E":0.20,"I":0.011},{"series":"Delta","E":0.22,"I":0.009},{"series":"Delta","E":0.24,"I":0.0065},{"series":"Delta","E":0.26,"I":0.0057},{"series":"Delta","E":0.28,"I":0.0055},{"series":"Delta","E":0.30,"I":0.0058},{"series":"Delta","E":0.32,"I":0.0056},{"series":"Delta","E":0.34,"I":0.0050},{"series":"Delta","E":0.36,"I":0.0040},{"series":"Delta","E":0.38,"I":0.0030},{"series":"Delta","E":0.40,"I":0.0025},{"series":"Delta","E":0.42,"I":0.0020},{"series":"Delta","E":0.44,"I":0.0030},{"series":"Delta","E":0.46,"I":0.0022},{"series":"Delta","E":0.48,"I":0.0010},{"series":"Delta","E":0.50,"I":0.0008},{"series":"Delta","E":0.52,"I":0.0005},{"series":"Delta","E":0.54,"I":0.0012},{"series":"Delta","E":0.56,"I":0.0020},{"series":"Delta","E":0.58,"I":0.0022},{"series":"Delta","E":0.60,"I":0.0015},{"series":"Delta","E":0.62,"I":0.0012},{"series":"Delta","E":0.64,"I":0.0020},{"series":"Delta","E":0.66,"I":0.0035},{"series":"Delta","E":0.68,"I":0.0050},{"series":"Delta","E":0.70,"I":0.0060},{"series":"Delta","E":0.72,"I":0.0062},{"series":"Delta","E":0.74,"I":0.0060},{"series":"Delta","E":0.76,"I":0.0058},{"series":"Delta","E":0.78,"I":0.0062},{"series":"Delta","E":0.80,"I":0.0065},
{"series":"Gaussian","E":-0.80,"I":0.0012},{"series":"Gaussian","E":-0.15,"I":0.0012},{"series":"Gaussian","E":-0.13,"I":0.0014},{"series":"Gaussian","E":-0.12,"I":0.0017},{"series":"Gaussian","E":-0.11,"I":0.0023},{"series":"Gaussian","E":-0.10,"I":0.0035},{"series":"Gaussian","E":-0.09,"I":0.0059},{"series":"Gaussian","E":-0.08,"I":0.0099},{"series":"Gaussian","E":-0.07,"I":0.0162},{"series":"Gaussian","E":-0.06,"I":0.0253},{"series":"Gaussian","E":-0.05,"I":0.0373},{"series":"Gaussian","E":-0.04,"I":0.0513},{"series":"Gaussian","E":-0.03,"I":0.0660},{"series":"Gaussian","E":-0.02,"I":0.0790},{"series":"Gaussian","E":-0.01,"I":0.0880},{"series":"Gaussian","E":-0.005,"I":0.0904},{"series":"Gaussian","E":0.0,"I":0.0912},{"series":"Gaussian","E":0.005,"I":0.0904},{"series":"Gaussian","E":0.01,"I":0.0880},{"series":"Gaussian","E":0.02,"I":0.0790},{"series":"Gaussian","E":0.03,"I":0.0660},{"series":"Gaussian","E":0.04,"I":0.0513},{"series":"Gaussian","E":0.05,"I":0.0373},{"series":"Gaussian","E":0.06,"I":0.0253},{"series":"Gaussian","E":0.07,"I":0.0162},{"series":"Gaussian","E":0.08,"I":0.0099},{"series":"Gaussian","E":0.09,"I":0.0059},{"series":"Gaussian","E":0.10,"I":0.0035},{"series":"Gaussian","E":0.11,"I":0.0023},{"series":"Gaussian","E":0.12,"I":0.0017},{"series":"Gaussian","E":0.13,"I":0.0014},{"series":"Gaussian","E":0.15,"I":0.0012},{"series":"Gaussian","E":0.80,"I":0.0012},
{"series":"Lorentzian","E":-0.80,"I":0.0028},{"series":"Lorentzian","E":-0.75,"I":0.0032},{"series":"Lorentzian","E":-0.70,"I":0.0035},{"series":"Lorentzian","E":-0.65,"I":0.0040},{"series":"Lorentzian","E":-0.60,"I":0.0046},{"series":"Lorentzian","E":-0.55,"I":0.0053},{"series":"Lorentzian","E":-0.50,"I":0.0061},{"series":"Lorentzian","E":-0.45,"I":0.0071},{"series":"Lorentzian","E":-0.40,"I":0.0084},{"series":"Lorentzian","E":-0.35,"I":0.0100},{"series":"Lorentzian","E":-0.30,"I":0.0121},{"series":"Lorentzian","E":-0.25,"I":0.0146},{"series":"Lorentzian","E":-0.20,"I":0.0179},{"series":"Lorentzian","E":-0.15,"I":0.0218},{"series":"Lorentzian","E":-0.10,"I":0.0262},{"series":"Lorentzian","E":-0.05,"I":0.0306},{"series":"Lorentzian","E":0.0,"I":0.0339},{"series":"Lorentzian","E":0.02,"I":0.0347},{"series":"Lorentzian","E":0.045,"I":0.0350},{"series":"Lorentzian","E":0.07,"I":0.0347},{"series":"Lorentzian","E":0.10,"I":0.0334},{"series":"Lorentzian","E":0.15,"I":0.0298},{"series":"Lorentzian","E":0.20,"I":0.0253},{"series":"Lorentzian","E":0.25,"I":0.0209},{"series":"Lorentzian","E":0.30,"I":0.0172},{"series":"Lorentzian","E":0.35,"I":0.0141},{"series":"Lorentzian","E":0.40,"I":0.0116},{"series":"Lorentzian","E":0.45,"I":0.0097},{"series":"Lorentzian","E":0.50,"I":0.0081},{"series":"Lorentzian","E":0.55,"I":0.0069},{"series":"Lorentzian","E":0.60,"I":0.0059},{"series":"Lorentzian","E":0.65,"I":0.0051},{"series":"Lorentzian","E":0.70,"I":0.0045},{"series":"Lorentzian","E":0.75,"I":0.0039},{"series":"Lorentzian","E":0.80,"I":0.0035}
]
},
"hconcat": [
{
"width": 356, "height": 380,
"title": {"text": "a", "anchor": "start", "frame": "group", "dx": -69, "offset": -24, "baseline": "alphabetic", "font": "Liberation Serif", "fontSize": 28, "fontWeight": "normal", "color": "black"},
"layer": [
{"data": {"name": "a"}, "transform": [{"filter": "datum.series === 'QENS data'"}], "mark": {"type": "circle", "size": 65, "opacity": 1, "color": "#474747", "clip": true},
"encoding": {
"x": {"field": "E", "type": "quantitative", "scale": {"domain": [-0.8, 0.8], "nice": false, "zero": false}, "axis": {"title": "Energy transfer (meV)", "labelPadding": 5, "titlePadding": 12, "values": [-0.8,-0.6,-0.4,-0.2,0,0.2,0.4,0.6,0.8], "labelExpr": "abs(round(datum.value*10)) % 4 == 0 ? (datum.value < 0 ? '-' + format(-datum.value, '.1f') : format(datum.value, '.1f')) : ''", "tickSize": {"condition": {"test": "abs(round(datum.value*10)) % 4 == 0", "value": 5}, "value": 3}}},
"y": {"field": "I", "type": "quantitative", "scale": {"domain": [0, 0.1], "nice": false}, "axis": {"title": "Intensity (a.u.)", "values": [0,0.01,0.02,0.03,0.04,0.05,0.06,0.07,0.08,0.09,0.1], "labelExpr": "round(datum.value*100) % 2 == 0 ? format(datum.value, '.2f') : ''", "tickSize": {"condition": {"test": "round(datum.value*100) % 2 == 0", "value": 6}, "value": 3}}}
}},
{"data": {"name": "a"}, "transform": [{"filter": "datum.series === 'Total fitting'"}], "mark": {"type": "line", "color": "#176f94", "strokeWidth": 4.5, "strokeCap": "round", "strokeJoin": "round", "clip": true}, "encoding": {"x": {"field": "E", "type": "quantitative"}, "y": {"field": "I", "type": "quantitative"}}},
{"data": {"name": "a"}, "transform": [{"filter": "datum.series === 'Delta'"}], "mark": {"type": "line", "color": "#29abe2", "strokeWidth": 4.5, "strokeDash": [16, 31], "strokeCap": "round", "strokeJoin": "round", "clip": true}, "encoding": {"x": {"field": "E", "type": "quantitative"}, "y": {"field": "I", "type": "quantitative"}}},
{"data": {"name": "a"}, "transform": [{"filter": "datum.series === 'Lorentzian'"}], "mark": {"type": "line", "color": "#ff0000", "strokeWidth": 5, "strokeCap": "round", "strokeJoin": "round", "clip": true}, "encoding": {"x": {"field": "E", "type": "quantitative"}, "y": {"field": "I", "type": "quantitative"}}},
{"data": {"values": [{"note": "Q=0.4Å⁻¹ of D₂"}]}, "mark": {"type": "text", "align": "left", "baseline": "alphabetic", "font": "Liberation Sans", "fontSize": 18, "fontWeight": "bold", "fill": "black"},
"encoding": {"text": {"field": "note"}, "x": {"datum": 0.193}, "y": {"datum": 0.0918}}},
{"data": {"values": [{"note": "0.5 bar 77K"}]}, "mark": {"type": "text", "align": "left", "baseline": "alphabetic", "font": "Liberation Sans", "fontSize": 18, "fontWeight": "bold", "fill": "black"},
"encoding": {"text": {"field": "note"}, "x": {"datum": 0.193}, "y": {"datum": 0.0850}}},
{"data": {"values": [{"label": "QENS data"}]}, "layer": [
{"mark": {"type": "circle", "size": 65, "opacity": 1, "color": "#474747"}, "encoding": {"x": {"datum": -0.6854}, "y": {"datum": 0.09211}}},
{"mark": {"type": "text", "align": "left", "baseline": "middle", "font": "Liberation Sans", "fontSize": 18, "fontWeight": "bold", "fill": "black"}, "encoding": {"text": {"field": "label"}, "x": {"datum": -0.5573}, "y": {"datum": 0.09211}}}]},
{"data": {"values": [{"label": "Total fitting"}]}, "layer": [
{"mark": {"type": "rule", "color": "#176f94", "strokeWidth": 4.5, "strokeCap": "round"}, "encoding": {"x": {"datum": -0.7809}, "x2": {"datum": -0.5899}, "y": {"datum": 0.08579}}},
{"mark": {"type": "text", "align": "left", "baseline": "middle", "font": "Liberation Sans", "fontSize": 18, "fontWeight": "bold", "fill": "black"}, "encoding": {"text": {"field": "label"}, "x": {"datum": -0.5573}, "y": {"datum": 0.08579}}}]},
{"data": {"values": [{"label": "Delta"}]}, "layer": [
{"mark": {"type": "rule", "color": "#29abe2", "strokeWidth": 4.5, "strokeCap": "round", "strokeDash": [16, 31]}, "encoding": {"x": {"datum": -0.7809}, "x2": {"datum": -0.5899}, "y": {"datum": 0.07939}}},
{"mark": {"type": "text", "align": "left", "baseline": "middle", "font": "Liberation Sans", "fontSize": 18, "fontWeight": "bold", "fill": "black"}, "encoding": {"text": {"field": "label"}, "x": {"datum": -0.5573}, "y": {"datum": 0.07939}}}]},
{"data": {"values": [{"label": "Lorentzian"}]}, "layer": [
{"mark": {"type": "rule", "color": "#ff0000", "strokeWidth": 4.5, "strokeCap": "round"}, "encoding": {"x": {"datum": -0.7809}, "x2": {"datum": -0.5899}, "y": {"datum": 0.07300}}},
{"mark": {"type": "text", "align": "left", "baseline": "middle", "font": "Liberation Sans", "fontSize": 18, "fontWeight": "bold", "fill": "black"}, "encoding": {"text": {"field": "label"}, "x": {"datum": -0.5573}, "y": {"datum": 0.07300}}}]}
]
},
{
"hconcat": [
{
"width": 366, "height": 382,
"title": {"text": "b", "anchor": "start", "frame": "group", "dx": -64, "offset": -26, "baseline": "alphabetic", "font": "Liberation Serif", "fontSize": 28, "fontWeight": "normal", "color": "black"},
"layer": [
{"data": {"name": "b"}, "transform": [{"filter": "datum.series === 'QENS data'"}], "mark": {"type": "circle", "size": 65, "opacity": 1, "color": "#474747", "clip": true},
"encoding": {
"x": {"field": "E", "type": "quantitative", "scale": {"domain": [-0.8, 0.8], "nice": false, "zero": false}, "axis": {"title": "Energy transfer (meV)", "labelPadding": 7, "titlePadding": 12, "values": [-0.8,-0.6,-0.4,-0.2,0,0.2,0.4,0.6,0.8], "labelExpr": "abs(round(datum.value*10)) % 4 == 0 ? (datum.value < 0 ? '-' + format(-datum.value, '.1f') : format(datum.value, '.1f')) : ''", "tickSize": {"condition": {"test": "abs(round(datum.value*10)) % 4 == 0", "value": 5}, "value": 3}}},
"y": {"field": "I", "type": "quantitative", "scale": {"domain": [0, 1], "nice": false}, "axis": {"title": "Intensity (a.u.)", "titlePadding": 7, "values": [0,0.1,0.2,0.3,0.4,0.5,0.6,0.7,0.8,0.9,1], "labelExpr": "round(datum.value*10) % 2 == 0 ? format(datum.value, '.1f') : ''", "tickSize": {"condition": {"test": "round(datum.value*10) % 2 == 0", "value": 6}, "value": 3}}}
}},
{"data": {"name": "b"}, "transform": [{"filter": "datum.series === 'Delta'"}], "mark": {"type": "line", "color": "#29abe2", "strokeWidth": 4.5, "strokeDash": [16, 31], "strokeCap": "round", "strokeJoin": "round", "clip": true}, "encoding": {"x": {"field": "E", "type": "quantitative"}, "y": {"field": "I", "type": "quantitative"}}},
{"data": {"values": [{"note": "Q=0.4Å⁻¹  of D₂"}]}, "mark": {"type": "text", "align": "left", "baseline": "alphabetic", "font": "Liberation Sans", "fontSize": 18, "fontWeight": "bold", "fill": "black"},
"encoding": {"text": {"field": "note"}, "x": {"datum": 0.14}, "y": {"datum": 0.919}}},
{"data": {"values": [{"note": "0.5 bar 50K"}]}, "mark": {"type": "text", "align": "left", "baseline": "alphabetic", "font": "Liberation Sans", "fontSize": 18, "fontWeight": "bold", "fill": "black"},
"encoding": {"text": {"field": "note"}, "x": {"datum": 0.14}, "y": {"datum": 0.840}}},
{"data": {"values": [{"label": "QENS data"}]}, "layer": [
{"mark": {"type": "circle", "size": 65, "opacity": 1, "color": "#474747"}, "encoding": {"x": {"datum": -0.6579}, "y": {"datum": 0.9424}}},
{"mark": {"type": "text", "align": "left", "baseline": "middle", "font": "Liberation Sans", "fontSize": 18, "fontWeight": "bold", "fill": "black"}, "encoding": {"text": {"field": "label"}, "x": {"datum": -0.5246}, "y": {"datum": 0.9424}}}]},
{"data": {"values": [{"label": "Delta"}]}, "layer": [
{"mark": {"type": "rule", "color": "#29abe2", "strokeWidth": 4.5, "strokeCap": "round", "strokeDash": [16, 31]}, "encoding": {"x": {"datum": -0.7508}, "x2": {"datum": -0.5650}, "y": {"datum": 0.8743}}},
{"mark": {"type": "text", "align": "left", "baseline": "middle", "font": "Liberation Sans", "fontSize": 18, "fontWeight": "bold", "fill": "black"}, "encoding": {"text": {"field": "label"}, "x": {"datum": -0.5246}, "y": {"datum": 0.8743}}}]}
]
},
{
"width": 358, "height": 386,
"title": {"text": "c", "anchor": "start", "frame": "group", "dx": -69, "offset": -28, "baseline": "alphabetic", "font": "Liberation Serif", "fontSize": 28, "fontWeight": "normal", "color": "black"},
"layer": [
{"data": {"name": "c"}, "transform": [{"filter": "datum.series === 'QENS data'"}], "mark": {"type": "circle", "size": 65, "opacity": 1, "color": "#474747", "clip": true},
"encoding": {
"x": {"field": "E", "type": "quantitative", "scale": {"domain": [-0.8, 0.8], "nice": false, "zero": false}, "axis": {"title": "Energy transfer (meV)", "labelPadding": 2, "titlePadding": 11, "values": [-0.8,-0.6,-0.4,-0.2,0,0.2,0.4,0.6,0.8], "labelExpr": "abs(round(datum.value*10)) % 4 == 0 ? (datum.value < 0 ? '-' + format(-datum.value, '.1f') : format(datum.value, '.1f')) : ''", "tickSize": {"condition": {"test": "abs(round(datum.value*10)) % 4 == 0", "value": 5}, "value": 3}}},
"y": {"field": "I", "type": "quantitative", "scale": {"domain": [0, 0.1], "nice": false}, "axis": {"title": "Intensity (a.u.)", "values": [0,0.01,0.02,0.03,0.04,0.05,0.06,0.07,0.08,0.09,0.1], "labelExpr": "round(datum.value*100) % 2 == 0 ? format(datum.value, '.2f') : ''", "tickSize": {"condition": {"test": "round(datum.value*100) % 2 == 0", "value": 6}, "value": 3}}}
}},
{"data": {"name": "c"}, "transform": [{"filter": "datum.series === 'Total fitting'"}], "mark": {"type": "line", "color": "#176f94", "strokeWidth": 3, "strokeCap": "round", "strokeJoin": "round", "clip": true}, "encoding": {"x": {"field": "E", "type": "quantitative"}, "y": {"field": "I", "type": "quantitative"}}},
{"data": {"name": "c"}, "transform": [{"filter": "datum.series === 'Delta'"}], "mark": {"type": "line", "color": "#29abe2", "strokeWidth": 4.5, "strokeDash": [16, 31], "strokeCap": "round", "strokeJoin": "round", "clip": true}, "encoding": {"x": {"field": "E", "type": "quantitative"}, "y": {"field": "I", "type": "quantitative"}}},
{"data": {"name": "c"}, "transform": [{"filter": "datum.series === 'Gaussian'"}], "mark": {"type": "line", "color": "#f07878", "strokeWidth": 4.5, "strokeCap": "round", "strokeJoin": "round", "clip": true}, "encoding": {"x": {"field": "E", "type": "quantitative"}, "y": {"field": "I", "type": "quantitative"}}},
{"data": {"name": "c"}, "transform": [{"filter": "datum.series === 'Lorentzian'"}], "mark": {"type": "line", "color": "#ff0000", "strokeWidth": 5, "strokeCap": "round", "strokeJoin": "round", "clip": true}, "encoding": {"x": {"field": "E", "type": "quantitative"}, "y": {"field": "I", "type": "quantitative"}}},
{"data": {"values": [{"note": "Q=0.4Å⁻¹ of H₂"}]}, "mark": {"type": "text", "align": "left", "baseline": "alphabetic", "font": "Liberation Sans", "fontSize": 18, "fontWeight": "bold", "fill": "black"},
"encoding": {"text": {"field": "note"}, "x": {"datum": 0.201}, "y": {"datum": 0.0917}}},
{"data": {"values": [{"note": "0.5 bar 77K"}]}, "mark": {"type": "text", "align": "left", "baseline": "alphabetic", "font": "Liberation Sans", "fontSize": 18, "fontWeight": "bold", "fill": "black"},
"encoding": {"text": {"field": "note"}, "x": {"datum": 0.201}, "y": {"datum": 0.0847}}},
{"data": {"values": [{"label": "QENS data"}]}, "layer": [
{"mark": {"type": "circle", "size": 65, "opacity": 1, "color": "#474747"}, "encoding": {"x": {"datum": -0.6860}, "y": {"datum": 0.09523}}},
{"mark": {"type": "text", "align": "left", "baseline": "middle", "font": "Liberation Sans", "fontSize": 18, "fontWeight": "bold", "fill": "black"}, "encoding": {"text": {"field": "label"}, "x": {"datum": -0.5645}, "y": {"datum": 0.09523}}}]},
{"data": {"values": [{"label": "Total fitting"}]}, "layer": [
{"mark": {"type": "rule", "color": "#176f94", "strokeWidth": 3.2, "strokeCap": "round"}, "encoding": {"x": {"datum": -0.7860}, "x2": {"datum": -0.5860}, "y": {"datum": 0.08902}}},
{"mark": {"type": "text", "align": "left", "baseline": "middle", "font": "Liberation Sans", "fontSize": 18, "fontWeight": "bold", "fill": "black"}, "encoding": {"text": {"field": "label"}, "x": {"datum": -0.5645}, "y": {"datum": 0.08902}}}]},
{"data": {"values": [{"label": "Delta"}]}, "layer": [
{"mark": {"type": "rule", "color": "#29abe2", "strokeWidth": 4.5, "strokeCap": "round", "strokeDash": [16, 31]}, "encoding": {"x": {"datum": -0.7810}, "x2": {"datum": -0.5911}, "y": {"datum": 0.08272}}},
{"mark": {"type": "text", "align": "left", "baseline": "middle", "font": "Liberation Sans", "fontSize": 18, "fontWeight": "bold", "fill": "black"}, "encoding": {"text": {"field": "label"}, "x": {"datum": -0.5645}, "y": {"datum": 0.08272}}}]},
{"data": {"values": [{"label": "Gaussian"}]}, "layer": [
{"mark": {"type": "rule", "color": "#f07878", "strokeWidth": 4.5, "strokeCap": "round"}, "encoding": {"x": {"datum": -0.7810}, "x2": {"datum": -0.5911}, "y": {"datum": 0.07643}}},
{"mark": {"type": "text", "align": "left", "baseline": "middle", "font": "Liberation Sans", "fontSize": 18, "fontWeight": "bold", "fill": "black"}, "encoding": {"text": {"field": "label"}, "x": {"datum": -0.5645}, "y": {"datum": 0.07643}}}]},
{"data": {"values": [{"label": "Lorentzian"}]}, "layer": [
{"mark": {"type": "rule", "color": "#ff0000", "strokeWidth": 4.5, "strokeCap": "round"}, "encoding": {"x": {"datum": -0.7810}, "x2": {"datum": -0.5911}, "y": {"datum": 0.07021}}},
{"mark": {"type": "text", "align": "left", "baseline": "middle", "font": "Liberation Sans", "fontSize": 18, "fontWeight": "bold", "fill": "black"}, "encoding": {"text": {"field": "label"}, "x": {"datum": -0.5645}, "y": {"datum": 0.07021}}}]}
]
}
],
"spacing": 94,
"bounds": "flush"
}
],
"config": {
"font": "Liberation Sans",
"view": {"stroke": "#5a5a5a", "strokeWidth": 1},
"axis": {"grid": false, "labelFont": "Liberation Sans", "labelFontSize": 18, "labelFontWeight": "bold", "labelColor": "black", "titleFont": "Liberation Sans", "titleFontSize": 19, "titleFontWeight": "bold", "titleColor": "black", "domainColor": "black", "domainWidth": 1.4, "tickColor": "black", "tickWidth": 1.3},
"axisX": {"labelFlush": false, "labelOverlap": false},
"axisY": {"labelPadding": 4, "titlePadding": 5, "labelOverlap": false}
}
}
